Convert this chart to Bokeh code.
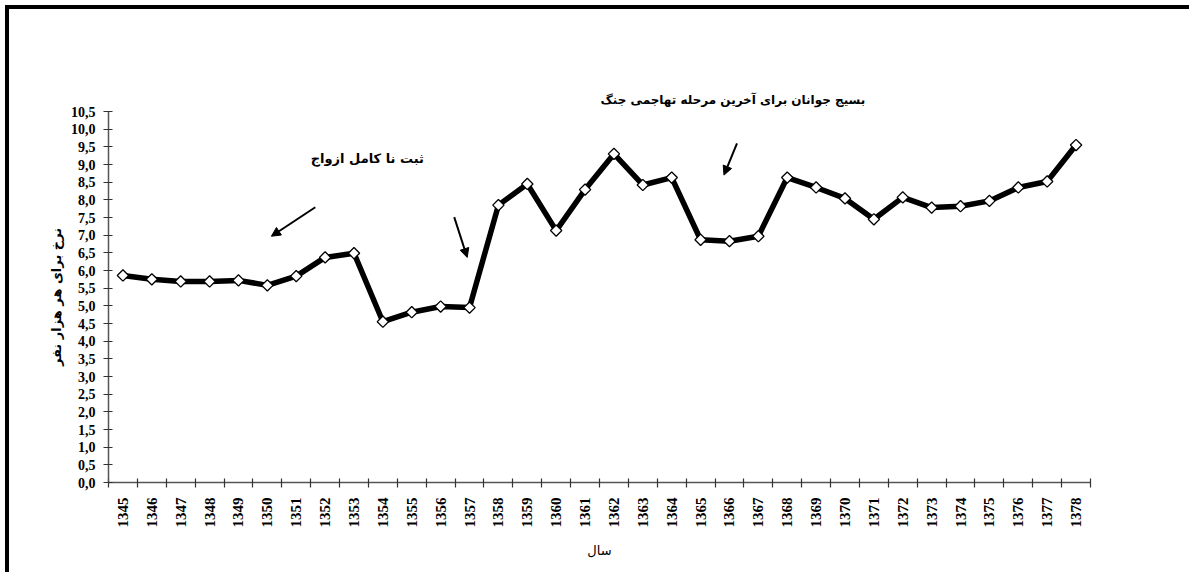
import math
from bokeh.plotting import figure
from bokeh.models import FixedTicker, Label, Arrow, NormalHead, Range1d, ColumnDataSource
from bokeh.embed import file_html
from bokeh.resources import INLINE

# ---- data ----
years = [str(y) for y in range(1345, 1379)]
rates = [5.86, 5.75, 5.69, 5.69, 5.72, 5.58, 5.84, 6.37, 6.49, 4.55,
         4.82, 4.98, 4.95, 7.85, 8.45, 7.13, 8.29, 9.30, 8.42, 8.63,
         6.87, 6.83, 6.97, 8.63, 8.35, 8.04, 7.45, 8.07, 7.78, 7.82,
         7.97, 8.35, 8.52, 9.55]
y_ticks = [i * 0.5 for i in range(22)]
y_tick_labels = [("%.1f" % v).replace(".", ",") for v in y_ticks]

y_title = "نرخ برای هر هزار نفر"
x_title = "سال"
note1 = "ثبت نا کامل ازواج"
note2 = "بسیج جوانان برای آخرین مرحله تهاجمی جنگ"

# ---- positions (category index based) ----
xc = [i + 0.5 for i in range(len(years))]
bounds = list(range(len(years) + 1))

SERIF = "Liberation Serif"
ARAB = "DejaVu Sans"
W, H = 1184, 567

p = figure(width=W, height=H, output_backend="svg", toolbar_location=None,
           x_range=Range1d(0, len(years)), y_range=Range1d(0, 10.5),
           min_border_left=99, min_border_right=103, min_border_top=102,
           min_border_bottom=94, title=note2)
p.styles = {"box-shadow": "-4px -4px 0px 0px black",
            "background-color": "white",
            "margin-left": "9px", "margin-top": "9px"}
p.outline_line_color = None
p.grid.visible = False
p.background_fill_color = "white"
p.border_fill_color = "white"

p.title.text_font = ARAB
p.title.text_font_size = "12px"
p.title.text_font_style = "bold"
p.title.text_color = "black"
p.title.align = "left"
p.title.offset = 492
p.title.standoff = 10

src = ColumnDataSource(dict(x=xc, y=rates))
p.line("x", "y", source=src, line_color="black", line_width=5.5)
p.scatter("x", "y", source=src, marker="square", angle=math.pi / 4, size=8,
          fill_color="white", line_color="black", line_width=1.3)

# x axis
xa = p.xaxis[0]
xa.ticker = FixedTicker(ticks=xc, minor_ticks=bounds)
xa.major_label_overrides = {c: y for c, y in zip(xc, years)}
xa.major_label_orientation = math.pi / 2
xa.major_tick_line_color = None
xa.major_tick_in = 0
xa.major_tick_out = 0
xa.minor_tick_line_color = "#333333"
xa.minor_tick_in = 4
xa.minor_tick_out = 5
xa.minor_tick_line_width = 1.2
xa.major_label_standoff = 10
xa.axis_line_color = "#555555"
xa.axis_line_width = 1.5
xa.major_label_text_font = SERIF
xa.major_label_text_font_style = "bold"
xa.major_label_text_font_size = "15px"
xa.major_label_text_color = "black"
xa.axis_label = x_title
xa.axis_label_text_font = ARAB
xa.axis_label_text_font_size = "13px"
xa.axis_label_text_font_style = "normal"
xa.axis_label_text_color = "black"
xa.axis_label_standoff = 12

# y axis
ya = p.yaxis[0]
ya.ticker = FixedTicker(ticks=y_ticks, minor_ticks=[])
ya.major_label_overrides = {v: s for v, s in zip(y_ticks, y_tick_labels)}
ya.major_tick_in = 4
ya.major_tick_out = 5
ya.major_tick_line_color = "#333333"
ya.major_tick_line_width = 1.2
ya.minor_tick_line_color = None
ya.major_label_standoff = 8
ya.axis_line_color = "#555555"
ya.axis_line_width = 1.5
ya.major_label_text_font = SERIF
ya.major_label_text_font_style = "bold"
ya.major_label_text_font_size = "14px"
ya.major_label_text_color = "black"
ya.axis_label = y_title
ya.axis_label_text_font = ARAB
ya.axis_label_text_font_size = "13px"
ya.axis_label_text_font_style = "bold"
ya.axis_label_text_color = "black"
ya.axis_label_standoff = 4

# annotations
p.add_layout(Label(x=8.96, y=9.18, text=note1, text_align="center",
                   text_baseline="middle", text_font=ARAB, text_font_size="13px",
                   text_font_style="bold", text_color="black"))

arrows = [((7.16, 7.79), (5.64, 6.97)),
          ((11.97, 7.51), (12.42, 6.37)),
          ((21.76, 9.60), (21.31, 8.70))]
for (x0, y0), (x1, y1) in arrows:
    p.add_layout(Arrow(x_start=x0, y_start=y0, x_end=x1, y_end=y1,
                       line_width=2, line_color="black",
                       end=NormalHead(size=9, fill_color="black", line_color="black")))

open("out.html", "w").write(file_html(p, INLINE))
